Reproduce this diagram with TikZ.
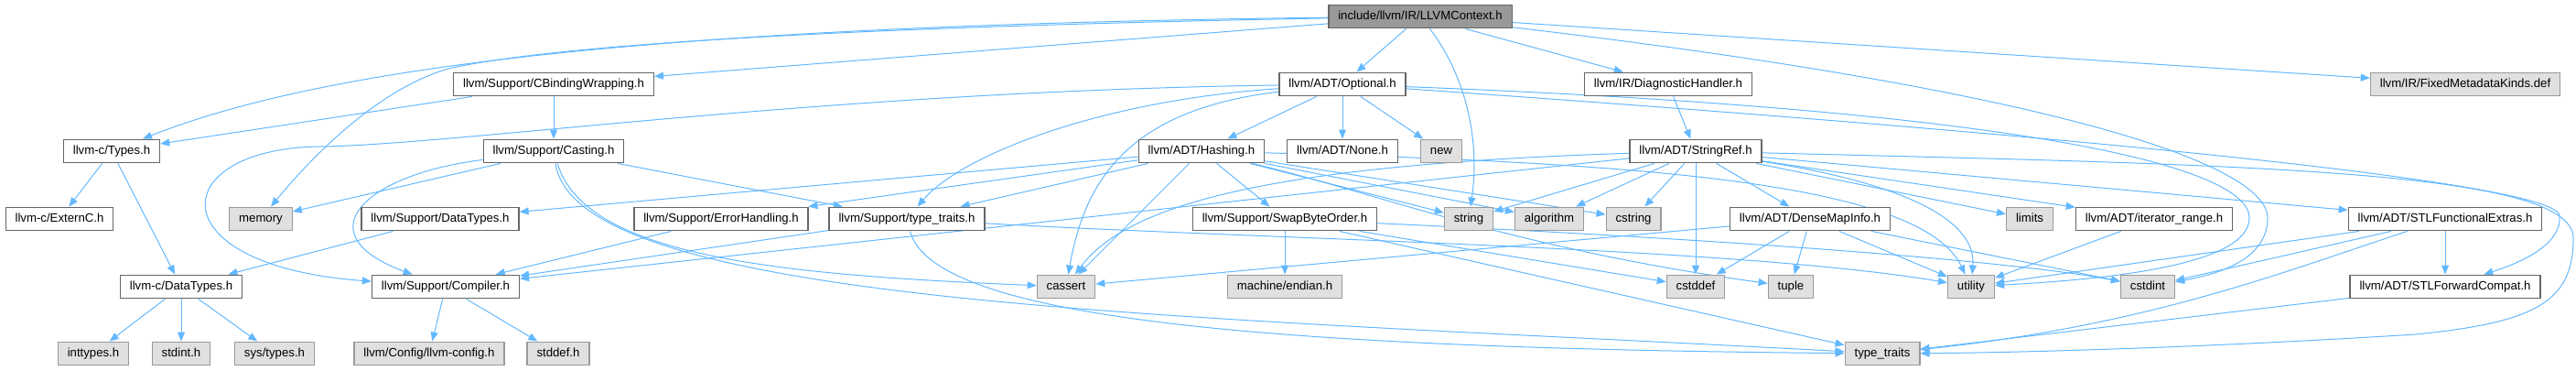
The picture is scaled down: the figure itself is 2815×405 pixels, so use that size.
\documentclass[tikz,border=0pt]{standalone}
\usepackage{fontspec}
\setmainfont{Liberation Sans}
\usetikzlibrary{arrows.meta,positioning}
\definecolor{incblue}{RGB}{99,184,255}
\definecolor{hdrline}{RGB}{102,102,102}
\definecolor{sysfill}{RGB}{224,224,224}
\definecolor{sysline}{RGB}{153,153,153}
\definecolor{rootfill}{RGB}{153,153,153}
\pgfdeclarelayer{bg}
\pgfsetlayers{bg,main}

\begin{document}
\begin{tikzpicture}[x=0.5pt,y=0.5pt,
    hdr/.style={draw=hdrline,fill=white,line width=0.65pt,minimum height=12.8pt,
        inner xsep=5.2pt,inner ysep=0pt,font=\fontsize{6.6pt}{7pt}\selectfont,
        text height=4.8pt,text depth=1.3pt},
    syshdr/.style={hdr,draw=sysline,fill=sysfill},
    roothdr/.style={hdr,fill=rootfill},
    inc/.style={draw=incblue,line width=0.5pt,-{Triangle[length=5pt,width=4pt]}}]
    \useasboundingbox (0,0) rectangle (2815,-405);
    %% top
    \node[roothdr] (ctx) at (1552,-18) {include/llvm/IR/LLVMContext.h};
    %% row 1
    \node[hdr] (cbw) at (605,-92) {llvm/Support/CBindingWrapping.h};
    \node[hdr] (optional) at (1467,-92) {llvm/ADT/Optional.h};
    \node[hdr] (diag) at (1823,-92) {llvm/IR/DiagnosticHandler.h};
    \node[syshdr] (fixedmd) at (2694,-92) {llvm/IR/FixedMetadataKinds.def};
    %% row 2
    \node[hdr] (types) at (122,-165) {llvm-c/Types.h};
    \node[hdr] (casting) at (605,-165) {llvm/Support/Casting.h};
    \node[hdr] (hashing) at (1313,-165) {llvm/ADT/Hashing.h};
    \node[hdr] (none) at (1467,-165) {llvm/ADT/None.h};
    \node[syshdr] (newh) at (1575,-165) {new};
    \node[hdr] (stringref) at (1853,-165) {llvm/ADT/StringRef.h};
    %% row 3
    \node[hdr] (externc) at (65,-239) {llvm-c/ExternC.h};
    \node[syshdr] (memory) at (285,-239) {memory};
    \node[hdr] (sdt) at (481,-239) {llvm/Support/DataTypes.h};
    \node[hdr] (errh) at (788,-239) {llvm/Support/ErrorHandling.h};
    \node[hdr] (sttraits) at (991,-239) {llvm/Support/type\_traits.h};
    \node[hdr] (swap) at (1404,-239) {llvm/Support/SwapByteOrder.h};
    \node[syshdr] (stringh) at (1605,-239) {string};
    \node[syshdr] (algorithm) at (1693,-239) {algorithm};
    \node[syshdr] (cstring) at (1785,-239) {cstring};
    \node[hdr] (densemap) at (1978,-239) {llvm/ADT/DenseMapInfo.h};
    \node[syshdr] (limits) at (2218,-239) {limits};
    \node[hdr] (iterrange) at (2354,-239) {llvm/ADT/iterator\_range.h};
    \node[hdr] (stlfunc) at (2672,-239) {llvm/ADT/STLFunctionalExtras.h};
    %% row 4
    \node[hdr] (cdt) at (198,-313) {llvm-c/DataTypes.h};
    \node[hdr] (compiler) at (487,-313) {llvm/Support/Compiler.h};
    \node[syshdr] (cassert) at (1165,-313) {cassert};
    \node[syshdr] (endian) at (1404,-313) {machine/endian.h};
    \node[syshdr] (cstddef) at (1853,-313) {cstddef};
    \node[syshdr] (tuple) at (1957,-313) {tuple};
    \node[syshdr] (utility) at (2154,-313) {utility};
    \node[syshdr] (cstdint) at (2347,-313) {cstdint};
    \node[hdr] (stlfwd) at (2672,-313) {llvm/ADT/STLForwardCompat.h};
    %% row 5
    \node[syshdr] (inttypes) at (102,-386) {inttypes.h};
    \node[syshdr] (stdint) at (198,-386) {stdint.h};
    \node[syshdr] (systypes) at (300,-386) {sys/types.h};
    \node[syshdr] (config) at (469,-386) {llvm/Config/llvm-config.h};
    \node[syshdr] (stddef) at (610,-386) {stddef.h};
    \node[syshdr] (typetraits) at (2057,-386) {type\_traits};
    %
    \begin{pgfonlayer}{bg}
    %% LLVMContext.h
    \draw[inc] (ctx) .. controls (700,-28) and (350,-75) .. (types);
    \draw[inc] (ctx) .. controls (900,-30) and (600,-50) .. (490,-75)
        .. controls (420,-95) and (350,-160) .. (memory);
    \draw[inc] (ctx) -- (cbw);
    \draw[inc] (ctx) -- (optional);
    \draw[inc] (ctx) .. controls (1600,-80) and (1618,-150) .. (stringh);
    \draw[inc] (ctx) -- (diag);
    \draw[inc] (ctx) -- (fixedmd);
    \draw[inc] (ctx) .. controls (2250,-100) and (2478,-180) .. (2478,-238)
        .. controls (2478,-285) and (2420,-300) .. (cstdint);
    %% CBindingWrapping.h, Casting.h
    \draw[inc] (cbw) -- (types);
    \draw[inc] (cbw) -- (casting);
    \draw[inc] (casting) -- (memory);
    \draw[inc] (casting) .. controls (400,-190) and (330,-255) .. (compiler);
    \draw[inc] (casting) -- (sttraits);
    \draw[inc] (casting) .. controls (640,-280) and (850,-300) .. (cassert);
    \draw[inc] (casting) .. controls (630,-335) and (1300,-345) .. (typetraits);
    %% llvm-c
    \draw[inc] (types) -- (externc);
    \draw[inc] (types) -- (cdt);
    \draw[inc] (sdt) -- (cdt);
    \draw[inc] (cdt) -- (inttypes);
    \draw[inc] (cdt) -- (stdint);
    \draw[inc] (cdt) -- (systypes);
    \draw[inc] (compiler) -- (config);
    \draw[inc] (compiler) -- (stddef);
    \draw[inc] (errh) -- (compiler);
    %% Optional.h
    \draw[inc] (optional) -- (hashing);
    \draw[inc] (optional) -- (none);
    \draw[inc] (optional) -- (newh);
    \draw[inc] (optional) .. controls (900,-100) and (500,-158) .. (350,-160)
        .. controls (180,-162) and (170,-290) .. (compiler);
    \draw[inc] (optional) .. controls (1200,-110) and (1050,-170) .. (sttraits);
    \draw[inc] (optional) .. controls (1230,-120) and (1185,-200) .. (cassert);
    \draw[inc] (optional) .. controls (2200,-120) and (2458,-180) .. (2458,-238)
        .. controls (2458,-290) and (2300,-305) .. (utility);
    \draw[inc] (optional) .. controls (2300,-150) and (2790,-200) .. (2797,-235)
        .. controls (2800,-265) and (2760,-285) .. (stlfwd);
    %% Hashing.h
    \draw[inc] (hashing) -- (sdt);
    \draw[inc] (hashing) -- (errh);
    \draw[inc] (hashing) -- (sttraits);
    \draw[inc] (hashing) -- (swap);
    \draw[inc] (hashing) -- (cassert);
    \draw[inc] (hashing) -- (stringh);
    \draw[inc] (hashing) -- (algorithm);
    \draw[inc] (hashing) -- (cstring);
    \draw[inc] (hashing) .. controls (1520,-215) and (1650,-270) .. (tuple);
    \draw[inc] (hashing) .. controls (1800,-178) and (2100,-200) .. (utility);
    %% type_traits.h, SwapByteOrder.h
    \draw[inc] (sttraits) -- (compiler);
    \draw[inc] (sttraits) .. controls (1020,-350) and (1400,-380) .. (typetraits);
    \draw[inc] (sttraits) .. controls (1400,-262) and (1900,-270) .. (utility);
    \draw[inc] (swap) -- (endian);
    \draw[inc] (swap) -- (cstddef);
    \draw[inc] (swap) .. controls (1900,-262) and (2200,-285) .. (cstdint);
    \draw[inc] (swap) -- (typetraits);
    %% StringRef.h
    \draw[inc] (diag) -- (stringref);
    \draw[inc] (stringref) -- (compiler);
    \draw[inc] (stringref) .. controls (1380,-180) and (1230,-225) .. (cassert);
    \draw[inc] (stringref) -- (stringh);
    \draw[inc] (stringref) -- (algorithm);
    \draw[inc] (stringref) -- (cstring);
    \draw[inc] (stringref) -- (cstddef);
    \draw[inc] (stringref) -- (densemap);
    \draw[inc] (stringref) .. controls (2080,-200) and (2160,-240) .. (utility);
    \draw[inc] (stringref) -- (limits);
    \draw[inc] (stringref) -- (iterrange);
    \draw[inc] (stringref) -- (stlfunc);
    \draw[inc] (stringref) .. controls (2450,-180) and (2812,-185) .. (2812,-260)
        .. controls (2812,-330) and (2770,-352) .. (2640,-365)
        .. controls (2400,-380) and (2200,-385) .. (typetraits);
    %% DenseMapInfo.h and the rest
    \draw[inc] (densemap) -- (cassert);
    \draw[inc] (densemap) -- (cstddef);
    \draw[inc] (densemap) -- (tuple);
    \draw[inc] (densemap) -- (utility);
    \draw[inc] (densemap) -- (cstdint);
    \draw[inc] (iterrange) -- (utility);
    \draw[inc] (stlfunc) -- (stlfwd);
    \draw[inc] (stlfunc) -- (cstdint);
    \draw[inc] (stlfunc) -- (utility);
    \draw[inc] (stlfunc) .. controls (2500,-295) and (2350,-355) .. (typetraits);
    \draw[inc] (stlfwd) -- (typetraits);
    \end{pgfonlayer}
\end{tikzpicture}
\end{document}
